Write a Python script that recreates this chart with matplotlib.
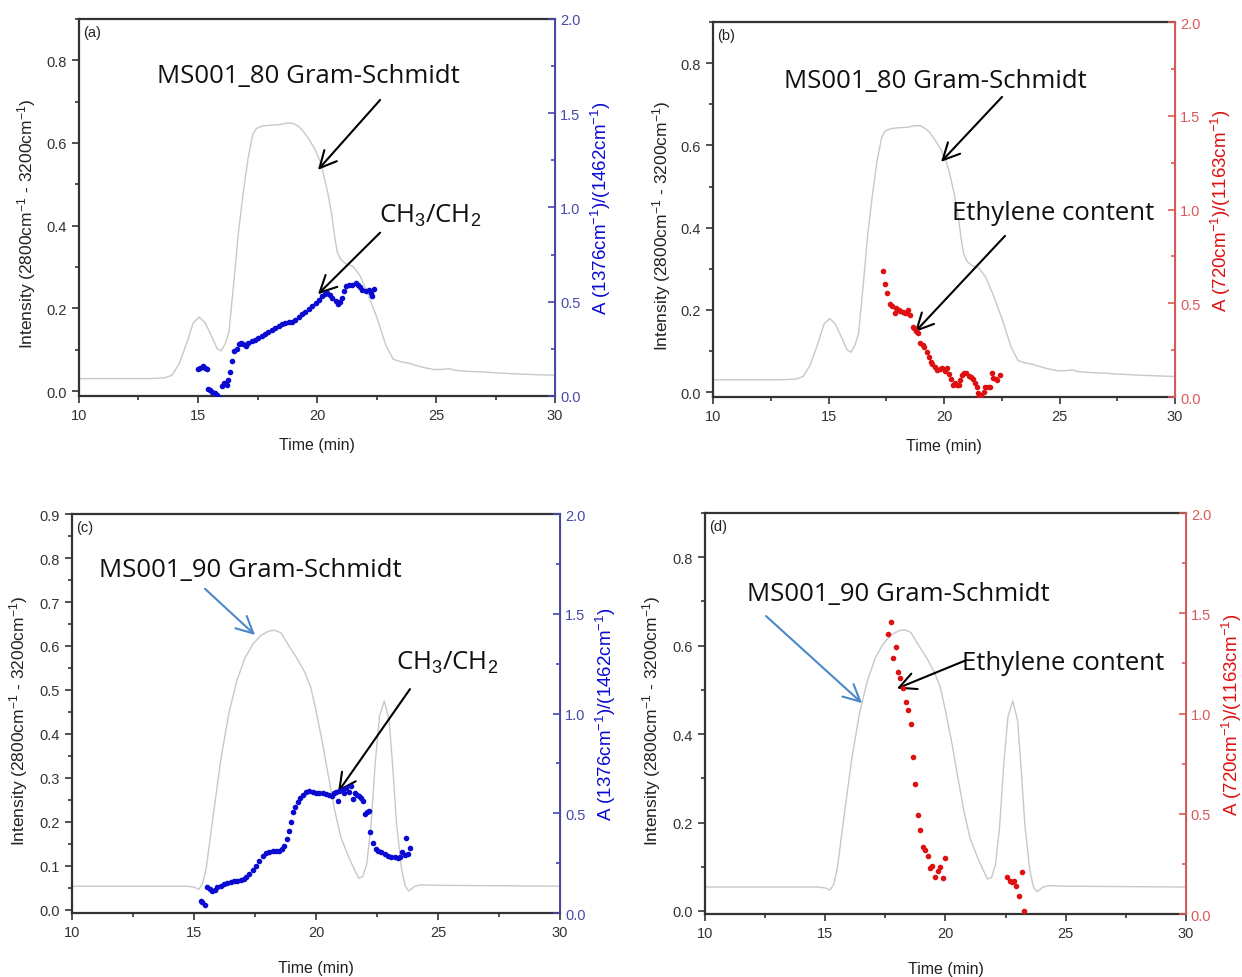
import matplotlib
matplotlib.use("Agg")
import matplotlib.pyplot as plt
from matplotlib.ticker import MultipleLocator

plt.rcParams['font.family'] = 'Liberation Sans'
plt.rcParams['mathtext.fontset'] = 'custom'
plt.rcParams['mathtext.rm'] = 'Liberation Sans'
plt.rcParams['mathtext.it'] = 'Liberation Sans:italic'
plt.rcParams['mathtext.bf'] = 'Liberation Sans:bold'

# Gram-Schmidt trace, sample MS001_80 (left axis)
gs80_t = [10.0, 13.0, 13.6, 13.9, 14.2, 14.55, 14.8, 15.05, 15.3, 15.55, 15.8, 15.97,
          16.15, 16.3, 16.5, 16.7, 16.9, 17.1, 17.3, 17.45, 17.7, 18.05, 18.4, 18.75,
          18.97, 19.2, 19.4, 19.65, 19.9, 20.1, 20.25, 20.45, 20.6, 20.75, 20.85, 21.0,
          21.2, 21.5, 21.8, 22.1, 22.5, 22.9, 23.2, 23.5, 23.8, 24.4, 24.9, 25.2, 25.55,
          25.8, 26.2, 27.0, 27.5, 28.5, 30.0]
gs80_v = [0.030, 0.030, 0.032, 0.038, 0.065, 0.120, 0.165, 0.179, 0.165, 0.135, 0.103, 0.097,
          0.115, 0.143, 0.26, 0.385, 0.48, 0.562, 0.620, 0.635, 0.641, 0.643, 0.644, 0.648,
          0.648, 0.641, 0.630, 0.61, 0.586, 0.56, 0.53, 0.48, 0.433, 0.37, 0.336, 0.318,
          0.308, 0.302, 0.28, 0.24, 0.18, 0.11, 0.077, 0.071, 0.068, 0.058, 0.052, 0.052, 0.054,
          0.050, 0.048, 0.046, 0.044, 0.041, 0.038]

# Gram-Schmidt trace, sample MS001_90 (left axis)
gs90_t = [10.0, 14.7, 15.0, 15.2, 15.35, 15.5, 15.77, 16.1, 16.43, 16.75, 17.08, 17.41,
          17.74, 18.07, 18.3, 18.56, 18.89, 19.21, 19.54, 19.79, 20.03, 20.28, 20.52, 20.77,
          21.02, 21.34, 21.59, 21.75, 21.92, 22.08, 22.25, 22.42, 22.6, 22.8, 23.0, 23.15,
          23.3, 23.5, 23.65, 23.8, 24.05, 24.3, 25.0, 30.0]
gs90_v = [0.054, 0.054, 0.052, 0.047, 0.060, 0.095, 0.208, 0.343, 0.448, 0.52, 0.572, 0.604,
          0.624, 0.634, 0.636, 0.630, 0.600, 0.573, 0.540, 0.505, 0.445, 0.375, 0.300, 0.225,
          0.165, 0.120, 0.090, 0.072, 0.076, 0.105, 0.190, 0.330, 0.440, 0.475, 0.43, 0.32,
          0.195, 0.095, 0.055, 0.043, 0.054, 0.057, 0.056, 0.054]

# (a) CH3/CH2 ratio, MS001_80
ch80_t = [15.00, 15.10, 15.20, 15.28, 15.36, 15.42, 15.50, 15.60, 15.70, 15.80, 15.93, 16.02,
          16.10, 16.20, 16.28, 16.35, 16.42, 16.52, 16.62, 16.72, 16.81, 16.90, 17.00, 17.12,
          17.26, 17.40, 17.54, 17.68, 17.82, 17.96, 18.10, 18.24, 18.39, 18.53, 18.67, 18.81,
          18.95, 19.09, 19.23, 19.37, 19.51, 19.65, 19.80, 19.94, 20.08, 20.22, 20.33, 20.43,
          20.53, 20.64, 20.78, 20.90, 20.97, 21.04, 21.14, 21.21, 21.35, 21.49, 21.63, 21.73,
          21.80, 21.91, 22.05, 22.17, 22.26, 22.33, 22.40]
ch80_v = [0.144, 0.151, 0.161, 0.151, 0.144, 0.039, 0.032, 0.021, 0.014, 0.005, -0.012, 0.053,
          0.067, 0.059, 0.085, 0.129, 0.183, 0.239, 0.248, 0.277, 0.280, 0.277, 0.266, 0.280,
          0.289, 0.298, 0.307, 0.316, 0.328, 0.337, 0.351, 0.360, 0.372, 0.381, 0.387, 0.390,
          0.395, 0.404, 0.417, 0.434, 0.447, 0.461, 0.475, 0.493, 0.511, 0.528, 0.541, 0.546,
          0.537, 0.520, 0.502, 0.488, 0.496, 0.520, 0.555, 0.582, 0.587, 0.590, 0.599, 0.590,
          0.578, 0.564, 0.555, 0.564, 0.546, 0.528, 0.567]

# (b) ethylene content, MS001_80
eth80_t = [17.36, 17.46, 17.54, 17.64, 17.74, 17.86, 17.93, 18.03, 18.11, 18.21, 18.31, 18.40,
           18.46, 18.54, 18.64, 18.71, 18.79, 18.86, 18.96, 19.07, 19.14, 19.26, 19.36, 19.43,
           19.50, 19.60, 19.71, 19.83, 19.93, 20.03, 20.14, 20.21, 20.31, 20.40, 20.46, 20.54,
           20.64, 20.71, 20.79, 20.86, 20.97, 21.07, 21.17, 21.26, 21.36, 21.43, 21.47, 21.53,
           21.61, 21.71, 21.79, 21.89, 21.97, 22.07, 22.14, 22.24, 22.31, 22.43]
eth80_v = [0.672, 0.603, 0.553, 0.494, 0.487, 0.446, 0.473, 0.464, 0.460, 0.455, 0.450, 0.446,
           0.464, 0.437, 0.375, 0.366, 0.354, 0.343, 0.290, 0.277, 0.268, 0.242, 0.215, 0.188,
           0.176, 0.162, 0.144, 0.148, 0.153, 0.140, 0.153, 0.123, 0.094, 0.064, 0.076, 0.064,
           0.064, 0.091, 0.117, 0.126, 0.126, 0.112, 0.105, 0.094, 0.073, 0.055, 0.020, -0.002,
           0.011, 0.028, 0.055, 0.055, 0.055, 0.130, 0.100, 0.094, 0.091, 0.117]

# (c) CH3/CH2 ratio, MS001_90
ch90_t = [15.27, 15.34, 15.44, 15.55, 15.64, 15.75, 15.86, 15.96, 16.10, 16.23, 16.37, 16.51,
          16.64, 16.78, 16.92, 17.05, 17.15, 17.26, 17.40, 17.53, 17.67, 17.81, 17.95, 18.08,
          18.22, 18.36, 18.49, 18.60, 18.70, 18.79, 18.88, 18.97, 19.07, 19.15, 19.25, 19.34,
          19.45, 19.59, 19.73, 19.86, 20.00, 20.14, 20.27, 20.41, 20.55, 20.66, 20.75, 20.82,
          20.89, 20.96, 21.07, 21.14, 21.23, 21.34, 21.44, 21.51, 21.58, 21.67, 21.75, 21.85,
          21.92, 21.99, 22.08, 22.16, 22.23, 22.33, 22.44, 22.53, 22.67, 22.81, 22.95, 23.08,
          23.22, 23.36, 23.45, 23.53, 23.63, 23.70, 23.77, 23.86]
ch90_v = [0.062, 0.053, 0.040, 0.129, 0.120, 0.112, 0.117, 0.129, 0.137, 0.144, 0.149, 0.154,
          0.159, 0.162, 0.165, 0.170, 0.179, 0.195, 0.216, 0.237, 0.262, 0.284, 0.301, 0.307,
          0.312, 0.312, 0.312, 0.321, 0.338, 0.371, 0.413, 0.458, 0.505, 0.530, 0.555, 0.575,
          0.591, 0.605, 0.610, 0.608, 0.601, 0.600, 0.600, 0.596, 0.591, 0.585, 0.601, 0.608,
          0.563, 0.613, 0.618, 0.601, 0.625, 0.608, 0.638, 0.571, 0.601, 0.591, 0.588, 0.575,
          0.563, 0.496, 0.505, 0.513, 0.408, 0.351, 0.321, 0.312, 0.304, 0.296, 0.287, 0.282,
          0.279, 0.274, 0.279, 0.307, 0.291, 0.374, 0.296, 0.324]

# (d) ethylene content, MS001_90
eth90_t = [17.61, 17.72, 17.83, 17.93, 18.02, 18.13, 18.22, 18.34, 18.44, 18.55, 18.64, 18.74,
           18.85, 18.96, 19.06, 19.15, 19.26, 19.36, 19.44, 19.57, 19.70, 19.79, 19.88, 19.98,
           22.57, 22.67, 22.78, 22.87, 22.95, 23.06, 23.17, 23.26]
eth90_v = [1.396, 1.458, 1.277, 1.330, 1.209, 1.177, 1.126, 1.056, 1.017, 0.946, 0.783, 0.648,
           0.495, 0.419, 0.333, 0.321, 0.288, 0.228, 0.238, 0.183, 0.213, 0.236, 0.180, 0.279,
           0.186, 0.166, 0.161, 0.166, 0.138, 0.091, 0.208, 0.017]

left_label = 'Intensity (2800cm$^{-1}$ - 3200cm$^{-1}$)'
ch_label = 'A (1376cm$^{-1}$)/(1462cm$^{-1}$)'
eth_label = 'A (720cm$^{-1}$)/(1163cm$^{-1}$)'

BLUE_AX = '#4848a8'
RED_AX = '#d85a5a'
NOTE_FONT = 'Open Sans'


def panel(fig, rect, letter, gs_t, gs_v, pts_t, pts_v, pt_color, ax_color,
          right_label, ylim, major, minor, label_y, xpad):
    ax = fig.add_axes(rect)
    ax.plot(gs_t, gs_v, color='#c8c8c8', lw=1.0)
    ax.set_xlim(10, 30)
    ax.set_ylim(*ylim)
    ax.xaxis.set_major_locator(MultipleLocator(5))
    ax.xaxis.set_minor_locator(MultipleLocator(2.5))
    ax.yaxis.set_major_locator(MultipleLocator(major))
    ax.yaxis.set_minor_locator(MultipleLocator(minor))
    ax.tick_params(which='both', direction='out', labelsize=10.5, colors='#333333',
                   width=1.2)
    ax.tick_params(which='major', length=5)
    ax.tick_params(which='minor', length=3)
    for side in ['left', 'top', 'bottom']:
        ax.spines[side].set_color('#333333')
        ax.spines[side].set_linewidth(1.6)
    ax.set_xlabel('Time (min)', fontsize=11.5, color='#222222', labelpad=xpad)
    ax.set_ylabel(left_label, fontsize=12.5, color='#222222')
    ax.yaxis.set_label_coords(-0.087, label_y)
    ax.text(0.008, 0.985, letter, transform=ax.transAxes, va='top', ha='left',
            fontsize=10.5, color='#222222')

    ax2 = ax.twinx()
    ax2.plot(pts_t, pts_v, 'o', ms=3.0, color=pt_color, mec=pt_color, ls='none')
    ax2.set_ylim(0, 2.0)
    ax2.yaxis.set_major_locator(MultipleLocator(0.5))
    ax2.yaxis.set_minor_locator(MultipleLocator(0.25))
    ax2.tick_params(axis='y', which='both', direction='in', colors=ax_color,
                    labelsize=10.5, width=1.2)
    ax2.tick_params(axis='y', which='major', length=5)
    ax2.tick_params(axis='y', which='minor', length=3)
    ax2.spines['right'].set_color(ax_color)
    ax2.spines['right'].set_linewidth(1.4)
    for side in ['left', 'top', 'bottom']:
        ax2.spines[side].set_visible(False)
    ax2.set_ylabel(right_label, fontsize=13.5, color=pt_color, labelpad=6)
    return ax


def arrow(ax, tip, tail, color='black'):
    ax.annotate('', xy=tip, xytext=tail,
                arrowprops=dict(arrowstyle='->,head_length=0.6,head_width=0.3',
                                color=color, lw=1.5, shrinkA=0, shrinkB=0,
                                mutation_scale=20))


def note(ax, x, y, s):
    ax.text(x, y, s, ha='center', va='center', fontsize=18.5, family=NOTE_FONT,
            color='#111111')


fig = plt.figure(figsize=(12.42, 9.78), dpi=100)

ax_a = panel(fig, [0.0636, 0.5941, 0.3833, 0.3855], '(a)', gs80_t, gs80_v,
             ch80_t, ch80_v, '#0a0ad0', BLUE_AX, ch_label, (-0.012, 0.9), 0.2, 0.1,
             0.46, 11)
note(ax_a, 19.62, 0.764, 'MS001_80 Gram-Schmidt')
note(ax_a, 24.75, 0.427, 'CH$_{3}$/CH$_{2}$')
arrow(ax_a, (20.04, 0.535), (22.65, 0.704))
arrow(ax_a, (20.04, 0.234), (22.65, 0.383))

ax_b = panel(fig, [0.5741, 0.5930, 0.3720, 0.3834], '(b)', gs80_t, gs80_v,
             eth80_t, eth80_v, '#dd1111', RED_AX, eth_label, (-0.012, 0.9), 0.2, 0.1,
             0.46, 11)
note(ax_b, 19.61, 0.757, 'MS001_80 Gram-Schmidt')
note(ax_b, 24.72, 0.438, 'Ethylene content')
arrow(ax_b, (19.87, 0.56), (22.51, 0.718))
arrow(ax_b, (18.74, 0.146), (22.64, 0.38))

ax_c = panel(fig, [0.0580, 0.0654, 0.3929, 0.4080], '(c)', gs90_t, gs90_v,
             ch90_t, ch90_v, '#0a0ad0', BLUE_AX, ch_label, (-0.007, 0.9), 0.1, 0.05,
             0.485, 15)
note(ax_c, 17.3, 0.775, 'MS001_90 Gram-Schmidt')
note(ax_c, 25.37, 0.564, 'CH$_{3}$/CH$_{2}$')
arrow(ax_c, (17.5, 0.625), (15.45, 0.73), color='#4a88c8')
arrow(ax_c, (20.9, 0.268), (23.85, 0.502))

ax_d = panel(fig, [0.5676, 0.0644, 0.3873, 0.4100], '(d)', gs90_t, gs90_v,
             eth90_t, eth90_v, '#dd1111', RED_AX, eth_label, (-0.007, 0.9), 0.2, 0.1,
             0.485, 15)
note(ax_d, 18.02, 0.719, 'MS001_90 Gram-Schmidt')
note(ax_d, 24.89, 0.562, 'Ethylene content')
arrow(ax_d, (16.53, 0.47), (12.54, 0.667), color='#4a88c8')
arrow(ax_d, (17.98, 0.503), (20.81, 0.566))

fig.savefig('out.png', dpi=100)
